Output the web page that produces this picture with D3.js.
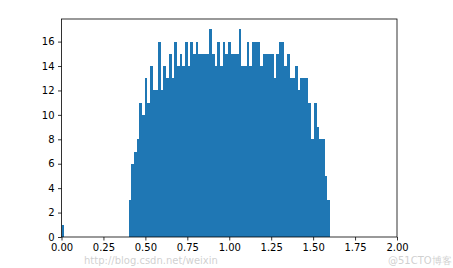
<!DOCTYPE html>
<html>
<head>
<meta charset="utf-8">
<script src="https://cdn.jsdelivr.net/npm/d3@7"></script>
<style>
  html, body { margin: 0; padding: 0; background: #fff; }
  svg { display: block; }
  text { font-family: "DejaVu Sans", sans-serif; }
</style>
</head>
<body>
<svg id="chart" width="453" height="268"></svg>
<script>
// Histogram data: bin width and counts
const binWidth = 0.016;
// single isolated bin at 0
const isolatedBinStarts = [0.0];
const isolatedBinCounts = [1];
// main block of bins starting at 0.40
const mainStart = 0.40;
const mainCounts = [
  3, 6, 7, 8, 11, 10, 13, 11, 14, 12,
  12, 16, 12, 14, 13, 15, 13, 16, 14, 15,
  14, 16, 14, 16, 15, 16, 15, 15, 15, 15,
  17, 15, 14, 16, 14, 16, 15, 16, 15, 15,
  15, 17, 14, 14, 16, 14, 16, 16, 16, 14,
  15, 15, 15, 15, 13, 15, 16, 16, 14, 15,
  13, 13, 14, 12, 13, 13, 13, 11, 8, 11,
  9, 8, 8, 5, 3
];
const xTicks = [0.00, 0.25, 0.50, 0.75, 1.00, 1.25, 1.50, 1.75, 2.00];
const yTicks = [0, 2, 4, 6, 8, 10, 12, 14, 16];
const xDomain = [0, 2];
const yDomain = [0, 17.85];

const svg = d3.select("#chart");
const L = 61.5, R = 397, T = 19, B = 237;

const x = d3.scaleLinear().domain(xDomain).range([L, R]);
const y = d3.scaleLinear().domain(yDomain).range([B, T]);

const bins = isolatedBinStarts.map((s, i) => ({x0: s, count: isolatedBinCounts[i]}))
  .concat(mainCounts.map((c, i) => ({x0: mainStart + i * binWidth, count: c})));

svg.append("g").attr("shape-rendering", "crispEdges")
  .selectAll("rect").data(bins).join("rect")
  .attr("x", d => x(d.x0))
  .attr("width", d => x(d.x0 + binWidth) - x(d.x0) + 0.05)
  .attr("y", d => y(d.count))
  .attr("height", d => y(0) - y(d.count))
  .attr("fill", "#1f77b4");

// Axes
const xAxis = d3.axisBottom(x).tickValues(xTicks).tickFormat(d3.format(".2f"))
  .tickSize(3.5).tickPadding(3.5);
const yAxis = d3.axisLeft(y).tickValues(yTicks).tickFormat(d3.format("d"))
  .tickSize(3.5).tickPadding(3.5);

const gx = svg.append("g").attr("transform", `translate(0,${B})`).call(xAxis);
const gy = svg.append("g").attr("transform", `translate(${L},0)`).call(yAxis);
[gx, gy].forEach(g => {
  g.select(".domain").remove();
  g.selectAll("line").attr("stroke", "#000").attr("stroke-width", 0.8);
  g.selectAll("text").attr("font-size", 10).attr("fill", "#000")
    .attr("font-family", "DejaVu Sans, sans-serif");
});

// Frame (spines)
svg.append("rect")
  .attr("x", L).attr("y", T)
  .attr("width", R - L).attr("height", B - T)
  .attr("fill", "none").attr("stroke", "#000").attr("stroke-width", 0.8);

// Faint watermark texts (placed just below the tick labels)
svg.append("text").attr("x", 84).attr("y", 264)
  .attr("font-size", 10).attr("fill", "#bbb").attr("fill-opacity", 0.7)
  .text("http://blog.csdn.net/weixin");
svg.append("text").attr("x", 388).attr("y", 264)
  .attr("font-size", 10).attr("fill", "#bbb").attr("fill-opacity", 0.7)
  .attr("font-family", "Noto Sans CJK SC, sans-serif")
  .text("@51CTO博客");
</script>
</body>
</html>
